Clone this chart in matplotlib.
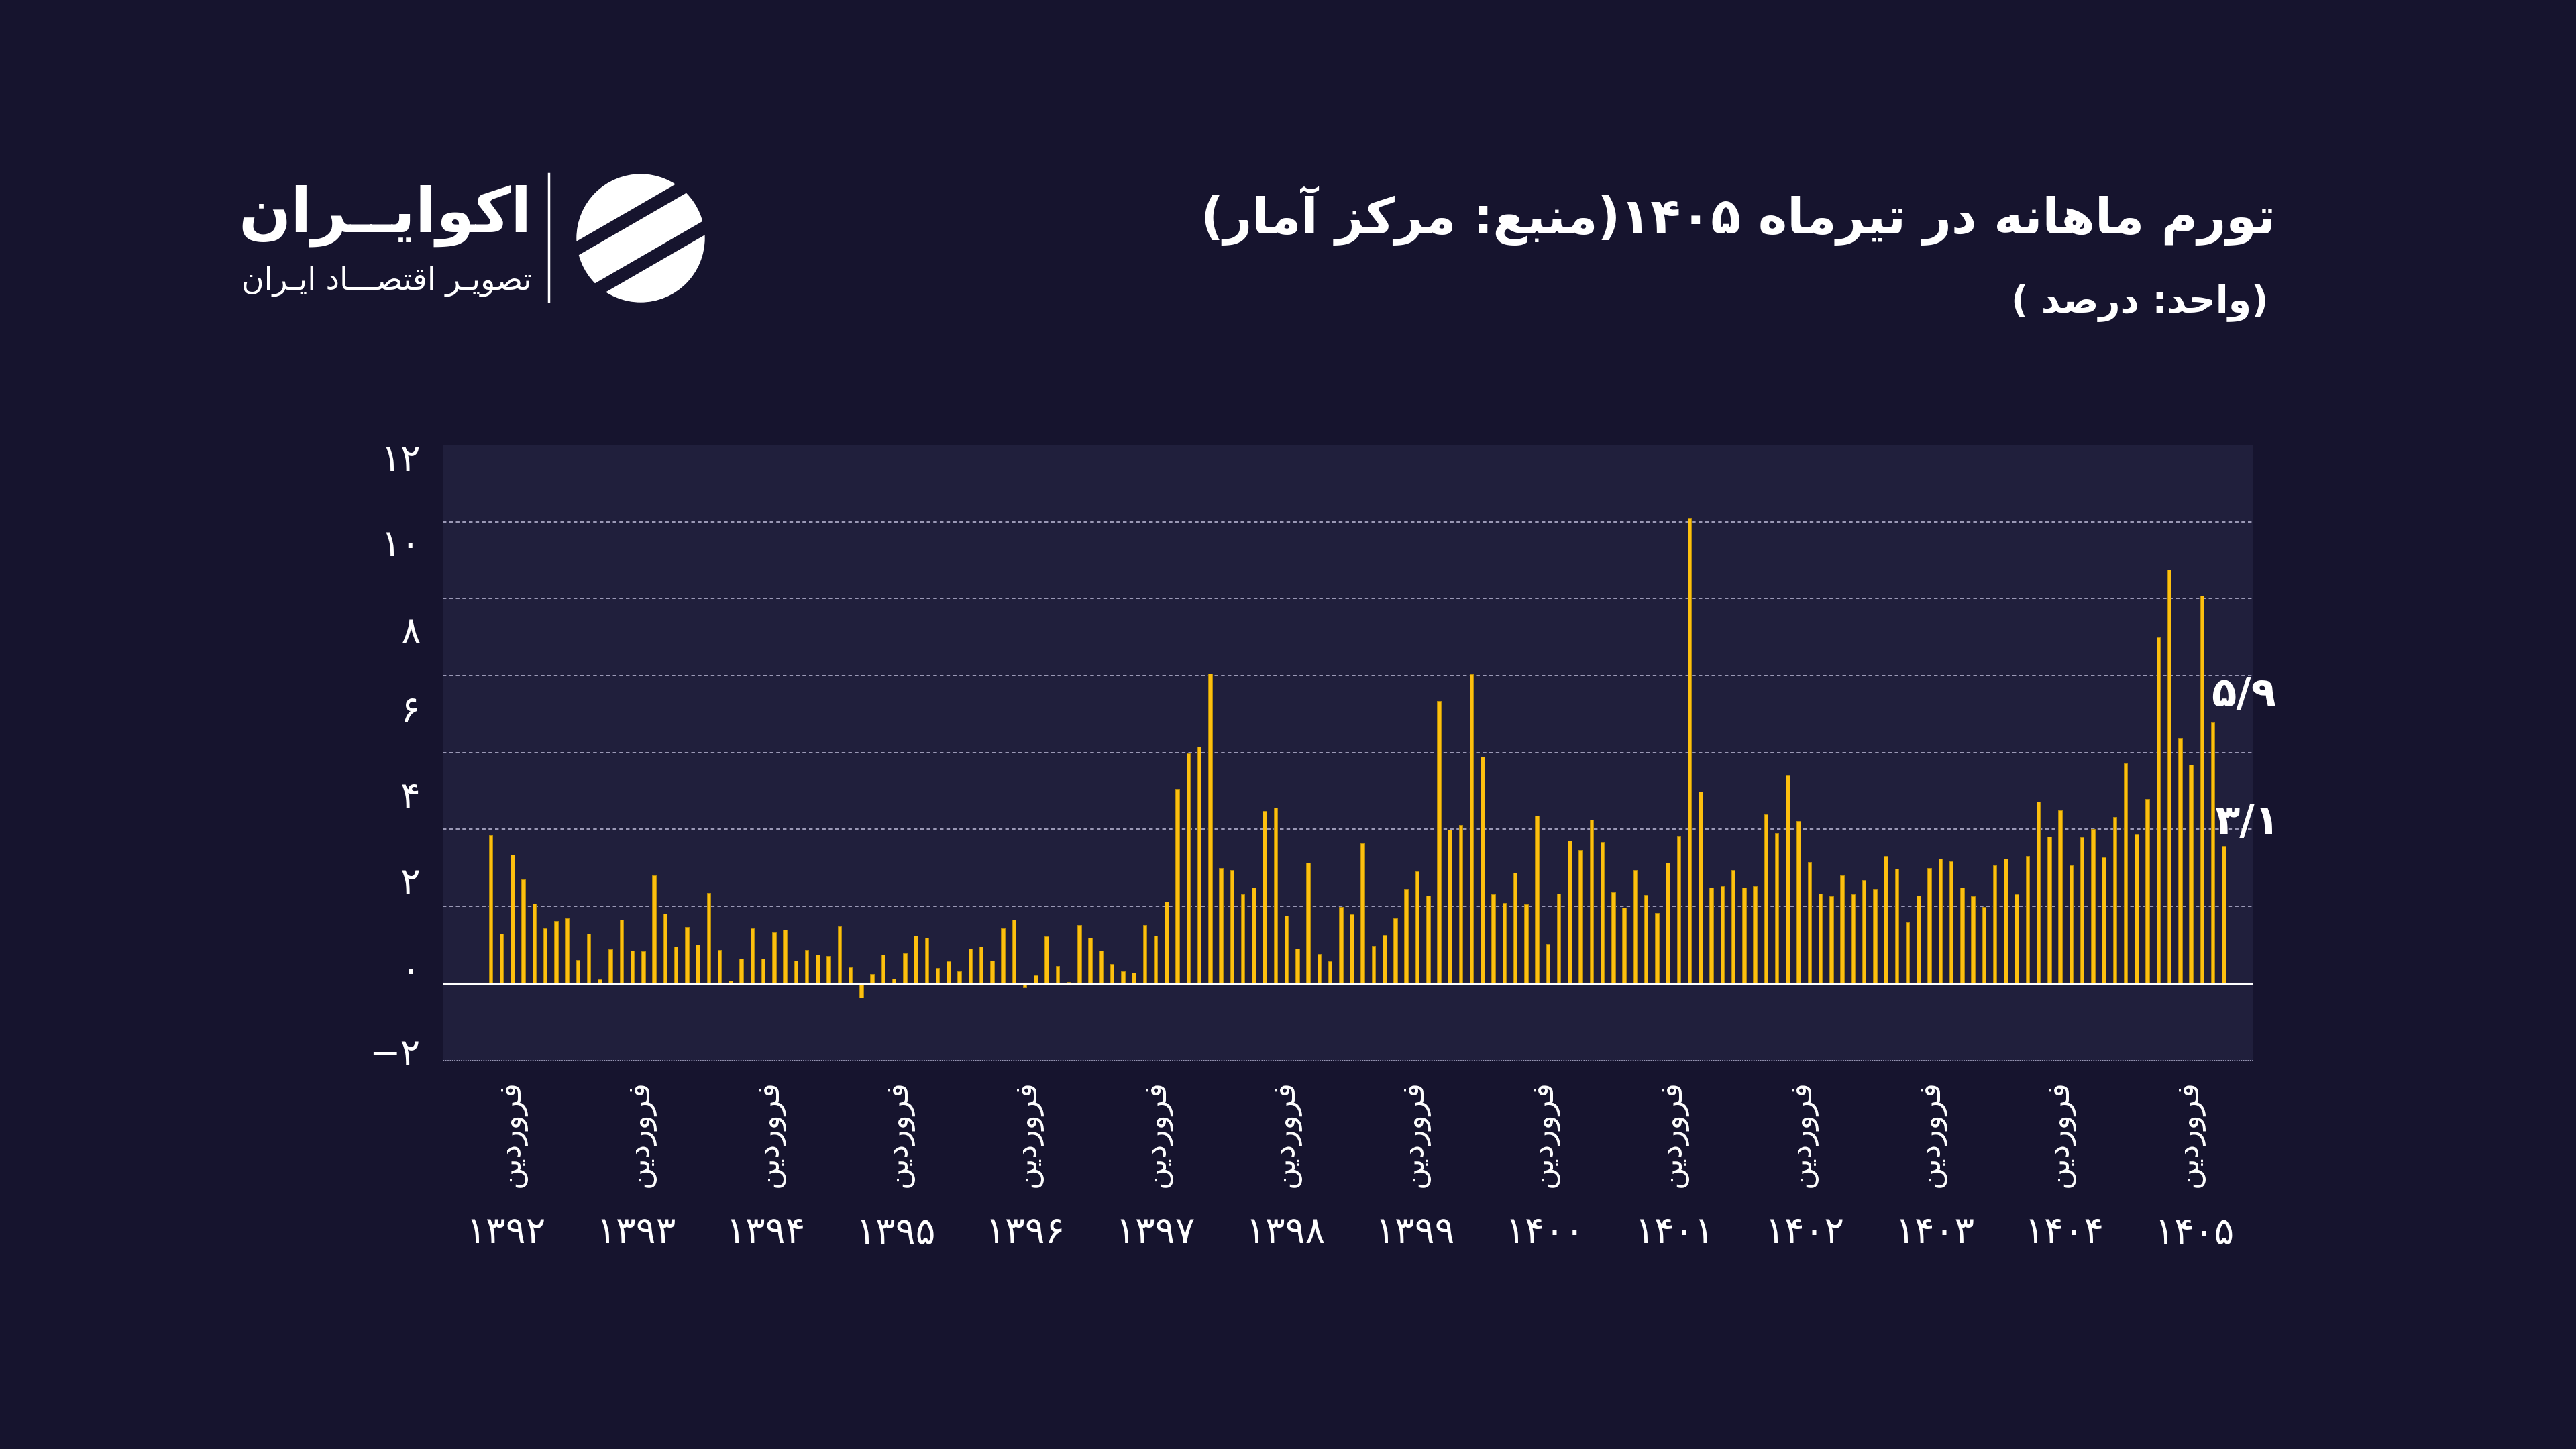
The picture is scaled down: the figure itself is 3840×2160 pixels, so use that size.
import re
import numpy as np
import matplotlib
matplotlib.use('Agg')
import matplotlib.pyplot as plt
from matplotlib.patches import Circle, Polygon

plt.rcParams['font.family'] = ['DejaVu Sans']
plt.rcParams['text.color'] = 'white'

# monthly inflation (%), Farvardin..Esfand of each year
y1392 = [3.34, 1.11, 2.91, 2.35, 1.80, 1.24, 1.40, 1.47, 0.52, 1.12, 0.08, 0.76]
y1393 = [1.43, 0.73, 0.72, 2.44, 1.57, 0.83, 1.27, 0.88, 2.04, 0.75, 0.06, 0.55]
y1394 = [1.23, 0.55, 1.15, 1.20, 0.51, 0.75, 0.65, 0.61, 1.29, 0.35, -0.33, 0.20]
y1395 = [0.65, 0.10, 0.67, 1.07, 1.02, 0.34, 0.49, 0.26, 0.78, 0.82, 0.51, 1.24]
y1396 = [1.44, -0.10, 0.18, 1.05, 0.39, 0.02, 1.32, 1.02, 0.74, 0.43, 0.27, 0.23]
y1397 = [1.32, 1.07, 1.85, 4.40, 5.20, 5.35, 7.00, 2.60, 2.56, 2.01, 2.17, 3.90]
y1398 = [3.97, 1.52, 0.78, 2.73, 0.66, 0.50, 1.73, 1.55, 3.17, 0.84, 1.09, 1.46]
y1399 = [2.13, 2.52, 1.98, 6.38, 3.47, 3.57, 6.99, 5.12, 2.01, 1.81, 2.49, 1.79]
y1400 = [3.78, 0.89, 2.03, 3.22, 3.01, 3.69, 3.19, 2.05, 1.71, 2.56, 1.99, 1.58]
y1401 = [2.72, 3.33, 10.52, 4.33, 2.16, 2.19, 2.55, 2.16, 2.19, 3.81, 3.39, 4.69]
y1402 = [3.67, 2.74, 2.02, 1.97, 2.44, 2.01, 2.33, 2.14, 2.87, 2.59, 1.38, 1.98]
y1403 = [2.61, 2.82, 2.76, 2.16, 1.96, 1.73, 2.66, 2.81, 2.01, 2.88, 4.11, 3.31]
y1404 = [3.91, 2.67, 3.30, 3.48, 2.84, 3.76, 4.97, 3.38, 4.17, 7.83, 9.36, 5.55]
y1405 = [4.94, 8.76, 5.9, 3.1]

years = list(range(1392, 1406))
month_label = 'فروردین'
ytick_values = [12, 10, 8, 6, 4, 2, 0, -2]

title = 'تورم ماهانه در تیرماه ۱۴۰۵(منبع: مرکز آمار)'
subtitle = '(واحد: درصد )'
brand = 'اکوایــران'
brand_sub = 'تصویـر اقتصـــاد ایـران'

# --- simple persian shaping (matplotlib has no bidi / arabic shaping)
FORMS = {
    'ا': ('\uFE8D', '\uFE8E', None, None),
    'آ': ('\uFE81', '\uFE82', None, None),
    'ب': ('\uFE8F', '\uFE90', '\uFE91', '\uFE92'),
    'ت': ('\uFE95', '\uFE96', '\uFE97', '\uFE98'),
    'ح': ('\uFEA1', '\uFEA2', '\uFEA3', '\uFEA4'),
    'د': ('\uFEA9', '\uFEAA', None, None),
    'ر': ('\uFEAD', '\uFEAE', None, None),
    'ز': ('\uFEAF', '\uFEB0', None, None),
    'ص': ('\uFEB9', '\uFEBA', '\uFEBB', '\uFEBC'),
    'ع': ('\uFEC9', '\uFECA', '\uFECB', '\uFECC'),
    'ف': ('\uFED1', '\uFED2', '\uFED3', '\uFED4'),
    'ق': ('\uFED5', '\uFED6', '\uFED7', '\uFED8'),
    'م': ('\uFEE1', '\uFEE2', '\uFEE3', '\uFEE4'),
    'ن': ('\uFEE5', '\uFEE6', '\uFEE7', '\uFEE8'),
    'ه': ('\uFEE9', '\uFEEA', '\uFEEB', '\uFEEC'),
    'و': ('\uFEED', '\uFEEE', None, None),
    'ک': ('\uFB8E', '\uFB8F', '\uFB90', '\uFB91'),
    'ی': ('\uFBFC', '\uFBFD', '\uFBFE', '\uFBFF'),
}
TATWEEL = 'ـ'


def joins_next(ch):
    return ch == TATWEEL or (ch in FORMS and FORMS[ch][2] is not None)


def joins_prev(ch):
    return ch == TATWEEL or ch in FORMS


def fa(s):
    out = []
    for i, ch in enumerate(s):
        if ch not in FORMS:
            out.append(ch)
            continue
        prev = s[i - 1] if i > 0 else ''
        nxt = s[i + 1] if i + 1 < len(s) else ''
        r = prev != '' and joins_next(prev)
        l = nxt != '' and joins_prev(nxt) and FORMS[ch][2] is not None
        iso, fin, ini, med = FORMS[ch]
        out.append(med if (r and l) else fin if r else ini if l else iso)
    shaped = ''.join(out)
    tokens = re.findall(r'[۰-۹]+(?:/[۰-۹]+)*|.', shaped)
    mirror = {'(': ')', ')': '('}
    return ''.join(mirror.get(t, t) for t in reversed(tokens))


def fa_num(v):
    s = str(v).replace('.', '/').replace('-', '−')
    return s.translate(str.maketrans('0123456789', '۰۱۲۳۴۵۶۷۸۹'))


values = np.array(y1392 + y1393 + y1394 + y1395 + y1396 + y1397 + y1398 +
                  y1399 + y1400 + y1401 + y1402 + y1403 + y1404 + y1405)
x = np.arange(len(values))

BG = '#16142E'
PLOT_BG = '#201F3C'
BAR = '#FDBF0F'
GRID = '#A9A7C4'

W, H = 3840, 2160
fig = plt.figure(figsize=(38.4, 21.6), dpi=100, facecolor=BG)
ax = fig.add_axes([660 / W, 1 - 1581 / H, (3358 - 660) / W, (1581 - 663) / H])
ax.set_facecolor(PLOT_BG)

ytop, ybot = 12.18, -1.753
ax.set_ylim(ybot, ytop)
ax.set_xlim(-4.4, len(values) + 1.66)

# grid lines (their spacing does not follow the labels in the original)
step = ytop / 7
for k in range(1, 8):
    ax.axhline(k * step, color=GRID, lw=1.3, ls=(0, (3, 2.4)), zorder=1)
ax.axhline(ybot, color=GRID, lw=2.0, ls=(0, (0.6, 0.6)), zorder=1)

ax.bar(x, values, width=0.34, color=BAR, edgecolor='#B88D0C', linewidth=0.7, zorder=3)
ax.axhline(0, color='white', lw=2.2, zorder=4)

for s in ax.spines.values():
    s.set_visible(False)
ax.set_xticks([])
ytick_pos = [11.9, 9.98, 8.0, 6.21, 4.28, 2.33, 0.34, -1.54]
ax.set_yticks(ytick_pos, [fa_num(v) for v in ytick_values])
ax.tick_params(axis='y', length=0, pad=24, labelsize=40, labelcolor='white')

# month / year labels under the bars
for xp in np.linspace(1.9, 155.8, len(years)):
    ax.text(xp, -0.032, fa(month_label), transform=ax.get_xaxis_transform(),
            rotation=90, ha='center', va='top', fontsize=33, color='white')
for xp, yr in zip(np.linspace(1.4, 156.3, len(years)), years):
    ax.text(xp, -0.28, fa_num(yr), transform=ax.get_xaxis_transform(),
            ha='center', va='center', fontsize=40, color='white')

# value labels for the last two months
ax.annotate(fa_num(values[-2]), xy=(x[-2], values[-2]), xytext=(68, 8),
            textcoords='offset points', ha='right', va='bottom', fontsize=44,
            weight='bold', color='white', annotation_clip=False)
ax.annotate(fa_num(values[-1]), xy=(x[-1], values[-1]), xytext=(60, 4),
            textcoords='offset points', ha='right', va='bottom', fontsize=44,
            weight='bold', color='white', annotation_clip=False)

# titles
fig.text(3392 / W, 1 - 322 / H, fa(title), ha='right', va='center',
         fontsize=53, weight='bold', color='white')
fig.text(3382 / W, 1 - 452 / H, fa(subtitle), ha='right', va='center',
         fontsize=40, weight='bold', color='white')

# logo
lx = fig.add_axes([0, 0, 1, 1])
lx.set_xlim(0, W)
lx.set_ylim(H, 0)
lx.axis('off')
cx, cy, r = 955, 355, 95
lx.add_patch(Circle((cx, cy), r, color='white'))
d = np.array([np.cos(np.radians(30)), -np.sin(np.radians(30))])
n = np.array([d[1] * -1, d[0]])
for off in (-34, 34):
    c = np.array([cx, cy]) + off * n
    pts = [c + 9 * n + 130 * d, c + 9 * n - 130 * d, c - 9 * n - 130 * d, c - 9 * n + 130 * d]
    lx.add_patch(Polygon(pts, closed=True, color=BG))
lx.plot([818, 818], [259, 449], color='white', lw=2.5)
fig.text(793 / W, 1 - 322 / H, fa(brand), ha='right', va='center',
         fontsize=66, weight='bold', color='white')
fig.text(793 / W, 1 - 420 / H, fa(brand_sub), ha='right', va='center',
         fontsize=33, color='white')

fig.savefig('out.png', dpi=100, facecolor=BG)
